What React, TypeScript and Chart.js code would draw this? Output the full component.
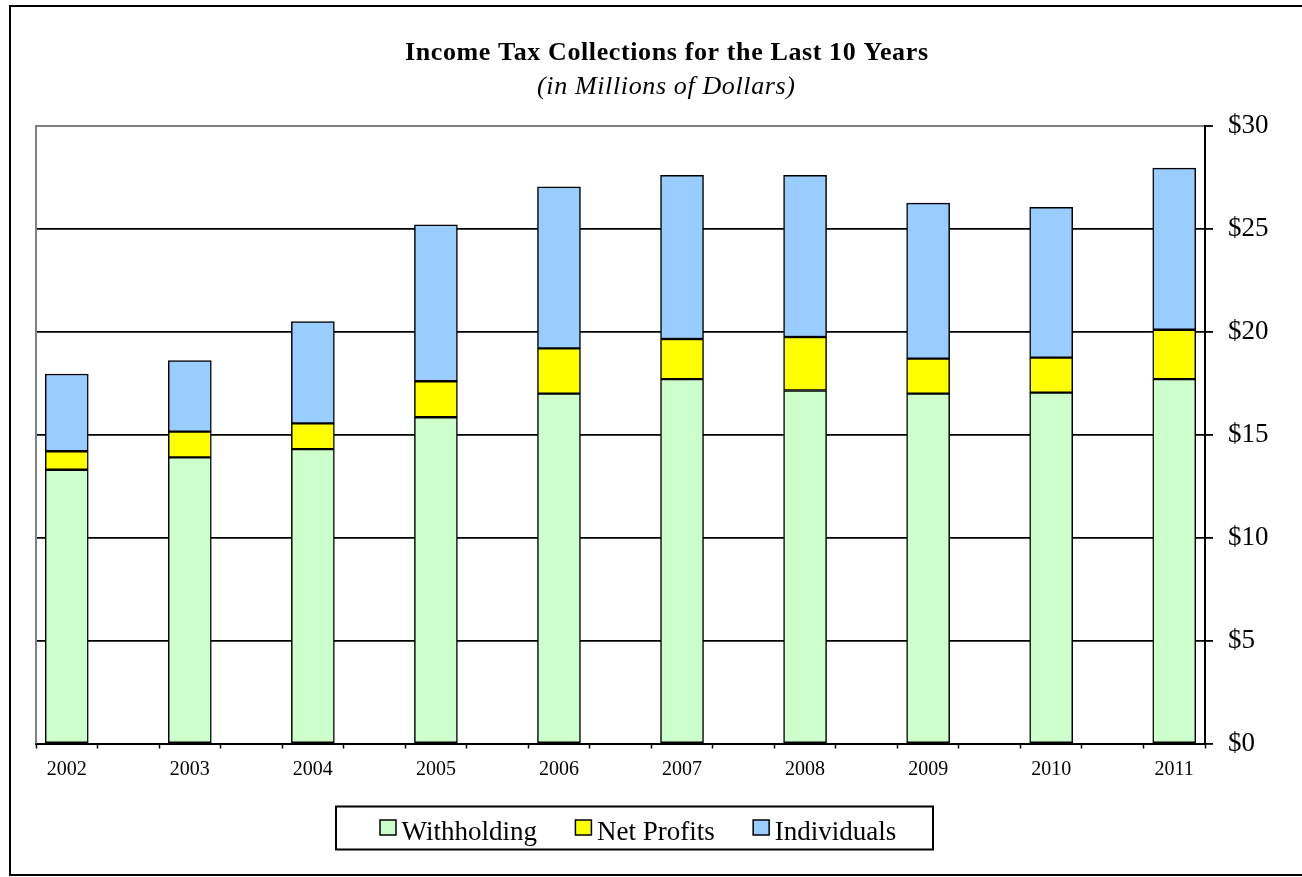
import { useEffect, useRef } from "react";
import { Chart, registerables } from "chart.js";

Chart.register(...registerables);

const YEARS = ["2002", "2003", "2004", "2005", "2006", "2007", "2008", "2009", "2010", "2011"];
const WITHHOLDING = [13.3, 13.9, 14.3, 15.85, 17.0, 17.7, 17.15, 17.0, 17.05, 17.7];
const NET_PROFITS = [0.9, 1.25, 1.25, 1.75, 2.2, 1.95, 2.6, 1.7, 1.7, 2.4];
const INDIVIDUALS = [3.75, 3.45, 4.95, 7.6, 7.85, 7.95, 7.85, 7.55, 7.3, 7.85];
const Y_MIN = 0;
const Y_MAX = 30;
const Y_STEP = 5;
const SERIES_NAMES = ["Withholding", "Net Profits", "Individuals"];
const SERIES_COLORS = ["#CCFFCC", "#FFFF00", "#99CCFF"];
const TITLE = "Income Tax Collections for the Last 10 Years";
const SUBTITLE = "(in Millions of Dollars)";
const FONT = "'Liberation Serif', 'Times New Roman', Times, serif";

function drawSpaced(ctx: CanvasRenderingContext2D, text: string, cx: number, y: number, targetW: number) {
  (ctx as any).letterSpacing = "0px";
  ctx.textAlign = "left";
  const w = ctx.measureText(text).width;
  const ls = (targetW - w) / Math.max(1, text.length - 1);
  (ctx as any).letterSpacing = ls + "px";
  ctx.fillText(text, cx - targetW / 2, y);
  (ctx as any).letterSpacing = "0px";
}

const decorPlugin = {
  id: "decor",
  beforeDatasetsDraw(chart: any) {
    const { ctx, chartArea } = chart;
    ctx.save();
    ctx.strokeStyle = "#808080";
    ctx.lineWidth = 2;
    ctx.beginPath();
    ctx.moveTo(chartArea.left, chartArea.top - 1);
    ctx.lineTo(chartArea.left, chartArea.bottom);
    ctx.stroke();
    ctx.restore();
  },
  afterDraw(chart: any) {
    const { ctx } = chart;
    ctx.save();
    // outer frame
    ctx.strokeStyle = "#000";
    ctx.lineWidth = 2;
    ctx.strokeRect(10, 6, 1310, 869);

    // title
    ctx.fillStyle = "#000";
    ctx.textBaseline = "alphabetic";
    ctx.font = `bold 26px ${FONT}`;
    drawSpaced(ctx, TITLE, 666.5, 59.5, 523);
    ctx.font = `italic 26px ${FONT}`;
    drawSpaced(ctx, SUBTITLE, 666, 93.5, 258);

    // legend
    ctx.lineWidth = 2;
    ctx.strokeStyle = "#000";
    ctx.strokeRect(336, 806.5, 597, 43);
    ctx.font = `27px ${FONT}`;
    ctx.textAlign = "left";
    let x = 380;
    chart.data.datasets.forEach((ds: any) => {
      ctx.fillStyle = ds.backgroundColor;
      ctx.fillRect(x, 820, 16, 15);
      ctx.lineWidth = 1.5;
      ctx.strokeStyle = "#000";
      ctx.strokeRect(x, 820, 16, 15);
      ctx.fillStyle = "#000";
      const tx = x + 21.5;
      ctx.fillText(ds.label, tx, 839.5);
      x = tx + ctx.measureText(ds.label).width + 38.5;
    });
    ctx.restore();
  },
};

export default function App() {
  const canvasRef = useRef<HTMLCanvasElement | null>(null);

  useEffect(() => {
    const canvas = canvasRef.current;
    if (!canvas) return;
    const series = [WITHHOLDING, NET_PROFITS, INDIVIDUALS];
    const chart = new Chart(canvas, {
      type: "bar",
      data: {
        datasets: series.map((values, si) => ({
          label: SERIES_NAMES[si],
          data: values.map((v, i) => ({ x: i, y: v })),
          backgroundColor: SERIES_COLORS[si],
          borderColor: "#000",
          borderWidth: 1.5,
          borderSkipped: false,
          barThickness: 43,
        })),
      },
      options: {
        responsive: false,
        animation: false,
        events: [],
        layout: { padding: { left: 36, top: 126, right: 0, bottom: 93.5 } },
        plugins: {
          legend: { display: false },
          title: { display: false },
          tooltip: { enabled: false },
        },
        scales: {
          x: {
            type: "linear",
            stacked: true,
            offset: false,
            min: -0.25,
            max: YEARS.length - 0.75,
            afterBuildTicks: (scale: any) => {
              const t: any[] = [];
              YEARS.forEach((_, i) => {
                t.push({ value: i - 0.25 }, { value: i }, { value: i + 0.25 });
              });
              scale.ticks = t;
            },
            afterFit: (scale: any) => {
              scale.height = 40;
            },
            ticks: {
              autoSkip: false,
              maxRotation: 0,
              minRotation: 0,
              padding: 9.5,
              color: "#000",
              font: { family: FONT, size: 20 },
              callback: (value: any) => (Number.isInteger(value) ? YEARS[value] : ""),
            },
            grid: {
              offset: false,
              drawOnChartArea: false,
              drawTicks: true,
              tickLength: 5,
              tickWidth: 1.5,
              tickColor: (c: any) => (Number.isInteger(c.tick?.value) ? "rgba(0,0,0,0)" : "#000"),
            },
            border: { display: true, color: "#000", width: 2 },
          },
          y: {
            position: "right",
            stacked: true,
            min: Y_MIN,
            max: Y_MAX,
            afterFit: (scale: any) => {
              scale.width = 97;
            },
            ticks: {
              stepSize: Y_STEP,
              padding: 15,
              color: "#000",
              font: { family: FONT, size: 27 },
              callback: (value: any) => "$" + value,
            },
            grid: {
              color: (c: any) => (c.tick?.value === Y_MAX ? "#808080" : "#000"),
              lineWidth: (c: any) => (c.tick?.value === Y_MAX ? 2 : 1.8),
              tickLength: 8,
              tickColor: "#000",
              tickWidth: 1.8,
            },
            border: { display: true, color: "#000", width: 2 },
          },
        },
      } as any,
      plugins: [decorPlugin],
    });
    return () => chart.destroy();
  }, []);

  return (
    <div style={{ position: "absolute", left: 0, top: 0, width: 1302, height: 877, background: "#fff" }}>
      <canvas ref={canvasRef} width={1302} height={877} style={{ display: "block" }} />
    </div>
  );
}
